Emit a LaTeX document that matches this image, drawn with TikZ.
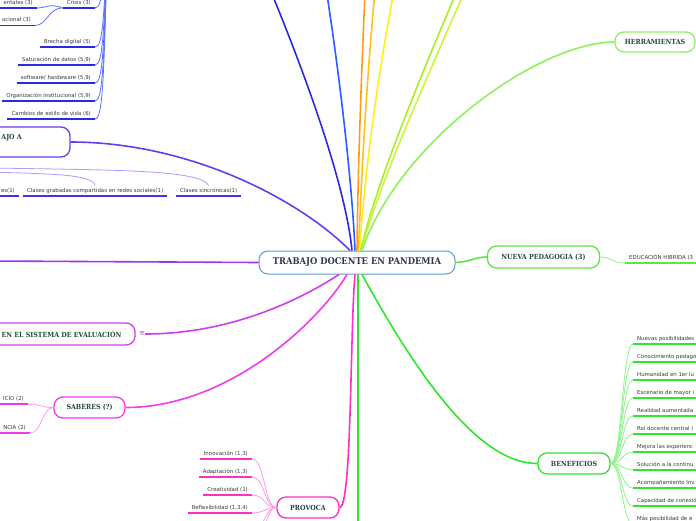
\documentclass[tikz,border=0pt]{standalone}
\usepackage{fontspec}
\setmainfont{DejaVu Sans}
\newfontfamily\slab{DejaVu Serif}[FakeStretch=0.9]
\newfontfamily\lblfont{DejaVu Sans}
\definecolor{cBlueDark}{HTML}{2A2AE6}
\definecolor{cBlueB}{HTML}{2A5CFF}
\definecolor{cBlueThin}{HTML}{5A70FF}
\definecolor{cOrange}{HTML}{FF9A1F}
\definecolor{cYOrange}{HTML}{FFC21A}
\definecolor{cYellow}{HTML}{FFEE1A}
\definecolor{cYGa}{HTML}{A6EF2A}
\definecolor{cYGb}{HTML}{CDF53A}
\definecolor{cHerr}{HTML}{8FF060}
\definecolor{cNP}{HTML}{5BE640}
\definecolor{cNPthin}{HTML}{9CF08A}
\definecolor{cBen}{HTML}{2EE62E}
\definecolor{cBenThin}{HTML}{8CF58C}
\definecolor{cProv}{HTML}{FF2EC8}
\definecolor{cProvThin}{HTML}{FF9AE4}
\definecolor{cSab}{HTML}{F03CF0}
\definecolor{cSabThin}{HTML}{F79AF7}
\definecolor{cEval}{HTML}{D23CF0}
\definecolor{cPurp}{HTML}{9A35F0}
\definecolor{cTA}{HTML}{6A3CF0}
\definecolor{cClase}{HTML}{4A2DF0}
\definecolor{cClaseThin}{HTML}{A79CFF}
\definecolor{cCentral}{HTML}{5B9BD5}
\definecolor{cTitle}{HTML}{2E3A4F}
\definecolor{cBranchText}{HTML}{234A3C}
\definecolor{cLabel}{HTML}{3A3A3A}
\definecolor{cEq}{HTML}{8866AA}
\tikzset{
  central/.style={draw=cCentral, line width=1pt, rounded corners=9pt, fill=white,
    minimum width=196pt, minimum height=23pt, inner sep=0pt, text=cTitle,
    font=\slab\bfseries\fontsize{9.3}{10}\selectfont},
  branch/.style={line width=1.3pt, rounded corners=9pt, fill=white, inner sep=0pt,
    text=cBranchText, font=\slab\bfseries\fontsize{7}{8}\selectfont},
  branchtext/.style={inner sep=0pt, text=cBranchText, font=\slab\bfseries\fontsize{7}{8}\selectfont},
  lab/.style={inner xsep=4pt, inner ysep=2.5pt, text=cLabel, text height=4pt, text depth=1.2pt,
    font=\lblfont\fontsize{5.4}{6}\selectfont},
  conn/.style={line width=1.6pt},
  ul/.style={line width=1.7pt},
  thin/.style={line width=0.8pt},
}
\begin{document}
\begin{tikzpicture}[x=1pt,y=-1pt]
\useasboundingbox (0,0) rectangle (696,520);
\clip (0,0) rectangle (696,520);
\fill[white] (0,0) rectangle (696,520);

% ---------- nodes ----------
\node[central] (c) at (357,262.5) {TRABAJO DOCENTE EN PANDEMIA};
\node[branch, draw=cHerr, minimum width=80pt, minimum height=20pt] (herr) at (655,42) {HERRAMIENTAS};
\node[branch, draw=cNP, minimum width=112pt, minimum height=22pt] (np) at (543.5,257) {NUEVA PEDAGOGIA (3)};
\node[branch, draw=cBen, minimum width=72pt, minimum height=21pt] (ben) at (574,463.5) {BENEFICIOS};
\node[branch, draw=cProv, minimum width=62pt, minimum height=21pt] (prov) at (308,507.5) {PROVOCA};
\node[branch, draw=cSab, minimum width=71pt, minimum height=21pt] (sab) at (89.5,407.5) {SABERES (?)};
\node[branch, draw=cEval, minimum width=147pt, minimum height=22pt] (ev) at (61.5,334) {EN EL SISTEMA DE EVALUACIÓN};
\node[text=cEq, inner sep=0pt, font=\lblfont\fontsize{7}{8}\selectfont] (eq) at (142,334) {≡};
\node[branch, draw=cTA, minimum width=100pt, minimum height=30pt] (ta) at (20,142) {};
\node[branchtext, anchor=base east] (tatext) at (22,139.5) {AJO A};

% ---------- off-screen coordinates ----------
\coordinate (t1) at (262,-30);
\coordinate (t2) at (323,-30);
\coordinate (t3) at (366,-30);
\coordinate (t4) at (377,-30);
\coordinate (t5) at (398,-30);
\coordinate (t6) at (466,-30);
\coordinate (t7) at (474,-30);
\coordinate (downG) at (358,540);
\coordinate (leftP) at (-10,261);
\coordinate (parTL) at (108,-80);
\coordinate (parCl1) at (-10,168);
\coordinate (parCl2) at (-10,172);
\coordinate (xp) at (265,0);
\coordinate (xb) at (622,0);

% ---------- main connectors ----------
\draw[conn, cBlueDark] ([xshift=-5pt]c.north) .. controls (345,180) and (300,60) .. (t1);
\draw[conn, cBlueB] ([xshift=-2pt]c.north) .. controls (352,180) and (338,60) .. (t2);
\draw[conn, cOrange] (c.north) .. controls (358,160) and (362,60) .. (t3);
\draw[conn, cYOrange] ([xshift=1.5pt]c.north) .. controls (362,160) and (368,60) .. (t4);
\draw[conn, cYellow] ([xshift=2.5pt]c.north) .. controls (365,170) and (378,70) .. (t5);
\draw[conn, cYGa] ([xshift=3.5pt]c.north) .. controls (375,190) and (410,100) .. (t6);
\draw[conn, cYGb] ([xshift=4.5pt]c.north) .. controls (377,190) and (417,100) .. (t7);
\draw[conn, cHerr] (herr.west) .. controls (540,42) and (400,140) .. ([xshift=5pt]c.north);
\draw[conn, cTA] (ta.east) .. controls (190,142) and (300,200) .. ([xshift=-7pt]c.north);
\draw[conn, cPurp] (leftP) -- (c.west);
\draw[conn, cNP] (c.east) .. controls (470,262) and (475,257) .. (np.west);
\draw[conn, cBen] ([xshift=5pt]c.south) .. controls (420,380) and (480,463.5) .. (ben.west);
\draw[conn, cBen] ([xshift=1pt]c.south) -- (downG);
\draw[conn, cProv] (prov.east) .. controls (352,507.5) and (350,330) .. ([xshift=-2pt]c.south);
\draw[conn, cSab] (sab.east) .. controls (230,407.5) and (320,320) .. ([xshift=-10pt]c.south);
\draw[conn, cEval] (eq.east) .. controls (230,334) and (300,300) .. ([xshift=-18pt]c.south);

% ---------- top-left list ----------
\node[lab, anchor=south east] (crisis) at (95,8) {Crisis (3)};
\node[lab, anchor=south east] (ent) at (37,8) {entales (3)};
\node[lab, anchor=south east] (ocio) at (35,25.5) {ocional (3)};
\node[lab, anchor=south east] (brecha) at (95,47) {Brecha digital (5)};
\node[lab, anchor=south east] (satur) at (95,65) {Saturación de datos (5,9)};
\node[lab, anchor=south east] (soft) at (95,83) {software/ hardeware (5,9)};
\node[lab, anchor=south east] (org) at (95,101) {Organización institucional (5,9)};
\node[lab, anchor=south east] (camb) at (95,119) {Cambios de estilo de vida (6)};
\foreach \n in {crisis,ent,ocio,brecha,satur,soft,org,camb}
  \draw[ul, cBlueDark] (\n.south west) -- (\n.south east);
\draw[thin, cBlueThin] (crisis.south west) .. controls (50,3) and (46,8) .. (ent.south east);
\draw[thin, cBlueThin] (crisis.south west) .. controls (48,8) and (47,25.5) .. (ocio.south east);
\draw[thin, cBlueThin] (crisis.south east) .. controls (103,8) and (104,-20) .. (parTL);
\draw[thin, cBlueThin] (brecha.south east) .. controls (103,47) and (104,20) .. (parTL);
\draw[thin, cBlueThin] (satur.south east) .. controls (103,65) and (104,35) .. (parTL);
\draw[thin, cBlueThin] (soft.south east) .. controls (103,83) and (104,50) .. (parTL);
\draw[thin, cBlueThin] (org.south east) .. controls (103,101) and (104,65) .. (parTL);
\draw[thin, cBlueThin] (camb.south east) .. controls (103,119) and (104,80) .. (parTL);

% ---------- clases ----------
\node[lab, anchor=south east] (cl0) at (19,196) {es(1)};
\node[lab, anchor=south west] (cl1) at (23,196) {Clases grabadas compartidas en redes sociales(1)};
\node[lab, anchor=south west] (cl2) at (176,196) {Clases sincrónicas(1)};
\foreach \n in {cl0,cl1,cl2}
  \draw[ul, cClase] (\n.south west) -- (\n.south east);
\draw[thin, cClaseThin] (parCl1) .. controls (120,170) and (200,170) .. (cl2.north);
\draw[thin, cClaseThin] (parCl2) .. controls (50,174) and (92,174) .. (cl1.north);

% ---------- saberes children ----------
\node[lab, anchor=south east] (sa1) at (28,404) {ICIO (2)};
\node[lab, anchor=south east] (sa2) at (30,433) {NCIA (2)};
\foreach \n in {sa1,sa2}
  \draw[ul, cSab] (\n.south west) -- (\n.south east);
\draw[thin, cSabThin] (sab.west) .. controls (42,407.5) and (40,404) .. (sa1.south east);
\draw[thin, cSabThin] (sab.west) .. controls (42,407.5) and (42,433) .. (sa2.south east);

% ---------- provoca children ----------
\node[lab, anchor=south east] (pv1) at (252,459) {Innovación (1,3)};
\node[lab, anchor=south east] (pv2) at (252,477) {Adaptación (1,3)};
\node[lab, anchor=south east] (pv3) at (252,495) {Creatividad (1)};
\node[lab, anchor=south east] (pv4) at (252,513) {Reflexibilidad (1,3,4)};
\foreach \n in {pv1,pv2,pv3,pv4}{
  \draw[ul, cProv] (\n.south west) -- (\n.south east);
  \draw[thin, cProvThin] (prov.west) .. controls (264,507.5) and (\n.south east -| xp) .. (\n.south east);
}
\coordinate (pv5) at (252,531);
\coordinate (pv6) at (252,549);
\draw[thin, cProvThin] (prov.west) .. controls (264,507.5) and (265,531) .. (pv5);
\draw[thin, cProvThin] (prov.west) .. controls (264,507.5) and (265,549) .. (pv6);

% ---------- nueva pedagogia child ----------
\node[lab, anchor=south west] (np1) at (625,263) {EDUCACIÓN HIBRIDA (3};
\draw[ul, cNP] (np1.south west) -- (np1.south east);
\draw[thin, cNPthin] (np.east) .. controls (612,257) and (612,263) .. (np1.south west);

% ---------- beneficios children ----------
\node[lab, anchor=south west] (b1) at (633,344) {Nuevas posibilidades};
\node[lab, anchor=south west] (b2) at (633,362) {Conocimiento pedagó};
\node[lab, anchor=south west] (b3) at (633,380) {Humanidad en 1er lu};
\node[lab, anchor=south west] (b4) at (633,398) {Escenario de mayor i};
\node[lab, anchor=south west] (b5) at (633,416) {Realidad aumentada};
\node[lab, anchor=south west] (b6) at (633,434) {Rol docente central (};
\node[lab, anchor=south west] (b7) at (633,452) {Mejora las experienc};
\node[lab, anchor=south west] (b8) at (633,470) {Solución a la continu};
\node[lab, anchor=south west] (b9) at (633,488) {Acompañamiento Inv};
\node[lab, anchor=south west] (b10) at (633,506) {Capacidad de conexió};
\node[lab, anchor=south west] (b11) at (633,524) {Más posibilidad de e};
\foreach \n in {b1,b2,b3,b4,b5,b6,b7,b8,b9,b10,b11}{
  \draw[ul, cBen] (\n.south west) -- ++(80,0);
  \draw[thin, cBenThin] (ben.east) .. controls (xb |- ben.east) and (\n.south west -| xb) .. (\n.south west);
}
\end{tikzpicture}
\end{document}
